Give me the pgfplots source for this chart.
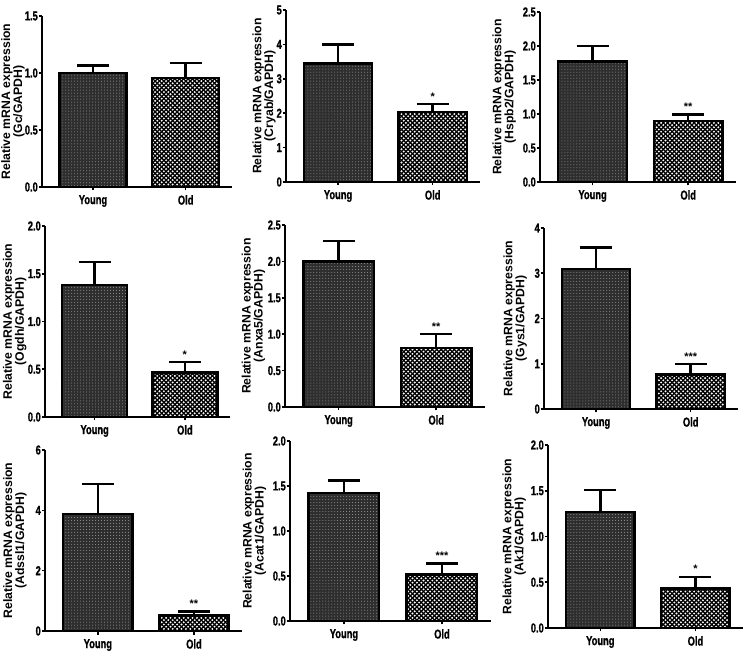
\documentclass[border=0pt]{standalone}
\usepackage{fontspec}
\setmainfont{Liberation Sans}
\newfontfamily\condfont{Liberation Sans}[FakeStretch=0.72, FakeBold=1]
\usepackage{pgfplots}
\pgfplotsset{compat=1.18}
\usetikzlibrary{patterns}
\pgfdeclarepatternformonly{oldpat}{\pgfpoint{-1bp}{-1bp}}{\pgfpoint{5.4bp}{5.4bp}}{\pgfpoint{4.4bp}{4.4bp}}{%
  \pgfpathcircle{\pgfpoint{1.1bp}{1.1bp}}{1.05bp}%
  \pgfpathcircle{\pgfpoint{3.3bp}{3.3bp}}{1.05bp}%
  \pgfusepath{fill}}
\newcommand{\tickfont}{\condfont\bfseries\fontsize{13}{14}\selectfont}
\newcommand{\labfont}{\bfseries\fontsize{12.3}{12}\selectfont}
\newcommand{\starfont}{\bfseries\fontsize{11}{11}\selectfont}
\pgfplotsset{
  panel/.style={
    scale only axis, anchor=south west,
    xmin=-0.55, xmax=1.5, ymin=0,
    axis x line*=bottom, axis y line*=left,
    axis line style={line width=2bp},
    xtick={0,1}, xticklabels={Young,Old},
    major tick length=3.5bp, tick align=outside,
    every tick/.style={line width=1.6bp, black},
    tick label style={font=\tickfont, inner sep=0.5bp},
    xticklabel style={yshift=-4bp},
    /pgf/number format/assume math mode=true,
    ylabel style={align=center, font=\labfont, anchor=center},
    clip=false,
  },
  labd/.style={ylabel style={at={(axis description cs:#1,0.5)}}},
  dec/.style={yticklabel style={/pgf/number format/.cd, fixed, fixed zerofill, precision=1, assume math mode=true}},
  bars/.style={ybar, bar width=0.72, bar shift=0pt, draw=black, line width=2.4bp,
    error bars/y dir=plus, error bars/y explicit,
    error bars/error mark=|,
    error bars/error bar style={line width=2.4bp, black},
    error bars/error mark options={line width=2.4bp, mark size=16bp, black}},
  young/.style={bars, fill=black!82, postaction={pattern=dots, pattern color=black!40}},
  old/.style={bars, fill=black, postaction={pattern=oldpat, pattern color=white}},
  star/.style={draw=none, mark=none, nodes near coords, point meta=explicit symbolic,
    every node near coord/.append style={font=\starfont, anchor=base, inner sep=0pt, yshift=4bp}},
}
\begin{document}
\begin{tikzpicture}
\useasboundingbox (0,0) rectangle (750bp,652bp);
% Row 1
\begin{axis}[panel, dec, labd=-0.153, at={(42bp,465bp)}, width=190bp, height=171bp, ymax=1.5, ytick={0,0.5,1,1.5},
  ylabel={Relative mRNA expression\\(Gc/GAPDH)}]
\addplot[young] coordinates {(0,1.0) +- (0,0.065)};
\addplot[old] coordinates {(1,0.957) +- (0,0.13)};
\end{axis}
\begin{axis}[panel, labd=-0.113, at={(286bp,470bp)}, width=194bp, height=172bp, ymax=5, ytick={0,1,2,3,4,5},
  ylabel={Relative mRNA expression\\(Cryab/GAPDH)}]
\addplot[young] coordinates {(0,3.45) +- (0,0.55)};
\addplot[old] coordinates {(1,2.04) +- (0,0.22)};
\addplot[star] coordinates {(1,2.26) [*]};
\end{axis}
\begin{axis}[panel, dec, labd=-0.183, at={(540bp,470bp)}, width=196bp, height=170bp, ymax=2.5, ytick={0,0.5,1,1.5,2,2.5},
  ylabel={Relative mRNA expression\\(Hspb2/GAPDH)}]
\addplot[young] coordinates {(0,1.77) +- (0,0.23)};
\addplot[old] coordinates {(1,0.9) +- (0,0.09)};
\addplot[star] coordinates {(1,0.99) [**]};
\end{axis}
% Row 2
\begin{axis}[panel, dec, labd=-0.164, at={(45bp,235bp)}, width=185bp, height=191bp, ymax=2, ytick={0,0.5,1,1.5,2},
  ylabel={Relative mRNA expression\\(Ogdh/GAPDH)}]
\addplot[young] coordinates {(0,1.38) +- (0,0.24)};
\addplot[old] coordinates {(1,0.465) +- (0,0.11)};
\addplot[star] coordinates {(1,0.575) [*]};
\end{axis}
\begin{axis}[panel, dec, labd=-0.158, at={(285bp,245bp)}, width=200bp, height=182bp, ymax=2.5, ytick={0,0.5,1,1.5,2,2.5},
  ylabel={Relative mRNA expression\\(Anxa5/GAPDH)}]
\addplot[young] coordinates {(0,2.0) +- (0,0.28)};
\addplot[old] coordinates {(1,0.81) +- (0,0.19)};
\addplot[star] coordinates {(1,1.0) [**]};
\end{axis}
\begin{axis}[panel, labd=-0.148, at={(544bp,243bp)}, width=194bp, height=181bp, ymax=4, ytick={0,1,2,3,4},
  ylabel={Relative mRNA expression\\(Gys1/GAPDH)}]
\addplot[young] coordinates {(0,3.1) +- (0,0.47)};
\addplot[old] coordinates {(1,0.76) +- (0,0.23)};
\addplot[star] coordinates {(1,0.99) [***]};
\end{axis}
% Row 3
\begin{axis}[panel, labd=-0.153, at={(45bp,21bp)}, width=197bp, height=181bp, ymax=6, ytick={0,2,4,6},
  ylabel={Relative mRNA expression\\(Adssl1/GAPDH)}]
\addplot[young] coordinates {(0,3.87) +- (0,1.0)};
\addplot[old] coordinates {(1,0.52) +- (0,0.13)};
\addplot[star] coordinates {(1,0.65) [**]};
\end{axis}
\begin{axis}[panel, dec, labd=-0.177, at={(290bp,31bp)}, width=201bp, height=180bp, ymax=2, ytick={0,0.5,1,1.5,2},
  ylabel={Relative mRNA expression\\(Acat1/GAPDH)}]
\addplot[young] coordinates {(0,1.42) +- (0,0.14)};
\addplot[old] coordinates {(1,0.515) +- (0,0.125)};
\addplot[star] coordinates {(1,0.64) [***]};
\end{axis}
\begin{axis}[panel, dec, labd=-0.173, at={(548bp,24bp)}, width=195bp, height=183bp, ymax=2, ytick={0,0.5,1,1.5,2},
  ylabel={Relative mRNA expression\\(Ak1/GAPDH)}]
\addplot[young] coordinates {(0,1.27) +- (0,0.24)};
\addplot[old] coordinates {(1,0.43) +- (0,0.13)};
\addplot[star] coordinates {(1,0.56) [*]};
\end{axis}
\end{tikzpicture}
\end{document}
